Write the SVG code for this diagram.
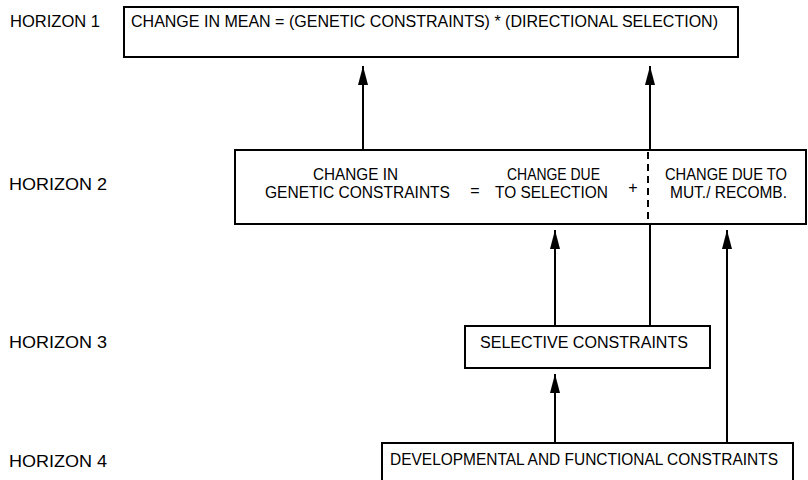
<svg xmlns="http://www.w3.org/2000/svg" width="808" height="480" viewBox="0 0 808 480">
<style>
text{font-family:"Liberation Sans","DejaVu Sans",Arial,sans-serif;font-size:16px;fill:#000}
.box{fill:#fff;stroke:#000;stroke-width:2}
.ln{stroke:#000;stroke-width:2;fill:none}
</style>
<defs>
<marker id="ah" markerUnits="userSpaceOnUse" viewBox="0 0 19 10" refX="19" refY="5" markerWidth="19" markerHeight="10" orient="auto">
<path d="M0,0 L19,5 L0,10 z" fill="#000"/>
</marker>
</defs>
<rect width="808" height="480" fill="#fff"/>
<g id="labels">
<text x="10" y="27" textLength="90" lengthAdjust="spacingAndGlyphs">HORIZON 1</text>
<text x="9" y="190" textLength="98" lengthAdjust="spacingAndGlyphs">HORIZON 2</text>
<text x="9" y="348" textLength="98" lengthAdjust="spacingAndGlyphs">HORIZON 3</text>
<text x="9" y="467" textLength="98" lengthAdjust="spacingAndGlyphs">HORIZON 4</text>
</g>
<g id="connectors">
<line class="ln" x1="363" y1="150" x2="363" y2="66" marker-end="url(#ah)"/>
<line class="ln" x1="650" y1="150" x2="650" y2="66" marker-end="url(#ah)"/>
<line class="ln" x1="555" y1="326" x2="555" y2="230" marker-end="url(#ah)"/>
<line class="ln" x1="650" y1="224" x2="650" y2="326"/>
<line class="ln" x1="727" y1="443" x2="727" y2="230" marker-end="url(#ah)"/>
<line class="ln" x1="555" y1="443" x2="555" y2="374" marker-end="url(#ah)"/>
</g>
<g id="horizon1">
<rect class="box" x="124" y="7" width="614" height="50"/>
<text x="131" y="27" textLength="587" lengthAdjust="spacingAndGlyphs">CHANGE IN MEAN = (GENETIC CONSTRAINTS) * (DIRECTIONAL SELECTION)</text>
</g>
<g id="horizon2">
<rect class="box" x="235" y="150" width="571" height="74"/>
<line x1="648" y1="152" x2="648" y2="222" stroke="#000" stroke-width="2" stroke-dasharray="7,5"/>
<text x="313" y="180" textLength="85" lengthAdjust="spacingAndGlyphs">CHANGE IN</text>
<text x="265" y="198" textLength="185" lengthAdjust="spacingAndGlyphs">GENETIC CONSTRAINTS</text>
<text x="475" y="196" text-anchor="middle">=</text>
<text x="507" y="180" textLength="93" lengthAdjust="spacingAndGlyphs">CHANGE DUE</text>
<text x="495" y="198" textLength="113" lengthAdjust="spacingAndGlyphs">TO SELECTION</text>
<text x="633" y="193" text-anchor="middle">+</text>
<text x="665" y="180" textLength="122" lengthAdjust="spacingAndGlyphs">CHANGE DUE TO</text>
<text x="670" y="198" textLength="117" lengthAdjust="spacingAndGlyphs">MUT./ RECOMB.</text>
</g>
<g id="horizon3">
<rect class="box" x="465" y="326" width="245" height="42"/>
<text x="480" y="348" textLength="208" lengthAdjust="spacingAndGlyphs">SELECTIVE CONSTRAINTS</text>
</g>
<g id="horizon4">
<rect class="box" x="382" y="443" width="411" height="50"/>
<text x="390" y="465" textLength="388" lengthAdjust="spacingAndGlyphs">DEVELOPMENTAL AND FUNCTIONAL CONSTRAINTS</text>
</g>
</svg>
